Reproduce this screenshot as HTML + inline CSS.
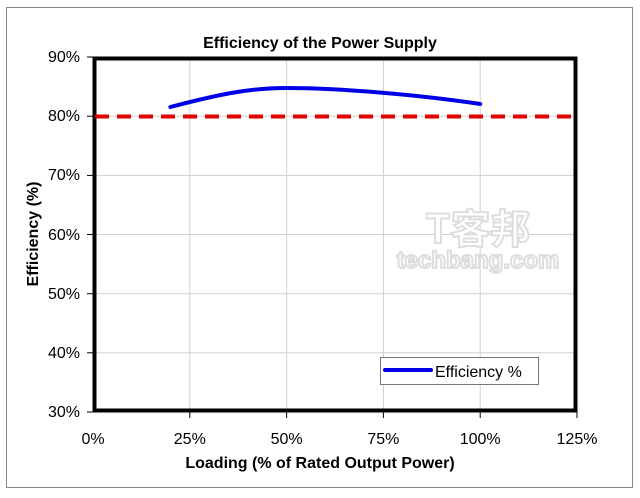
<!DOCTYPE html>
<html><head><style>body{margin:0;background:#fff}</style></head><body>
<svg width="640" height="493" xmlns="http://www.w3.org/2000/svg" font-family="Liberation Sans, sans-serif">
<rect x="6.5" y="7.5" width="626" height="480" fill="#fff" stroke="#888" stroke-width="1"/>
<text x="320" y="48" text-anchor="middle" font-size="16" font-weight="bold">Efficiency of the Power Supply</text>
<g stroke="#d0d0d0" stroke-width="1">
<line x1="189.8" y1="57" x2="189.8" y2="412"/><line x1="286.6" y1="57" x2="286.6" y2="412"/>
<line x1="383.4" y1="57" x2="383.4" y2="412"/><line x1="480.2" y1="57" x2="480.2" y2="412"/>
<line x1="93" y1="116.2" x2="577" y2="116.2"/><line x1="93" y1="175.4" x2="577" y2="175.4"/>
<line x1="93" y1="234.5" x2="577" y2="234.5"/><line x1="93" y1="293.7" x2="577" y2="293.7"/>
<line x1="93" y1="352.8" x2="577" y2="352.8"/>
</g>
<g font-size="16" fill="#000" text-anchor="end">
<text x="80" y="62">90%</text><text x="80" y="121">80%</text><text x="80" y="180">70%</text>
<text x="80" y="240">60%</text><text x="80" y="299">50%</text><text x="80" y="358">40%</text><text x="80" y="417">30%</text>
</g>
<g font-size="16" text-anchor="middle">
<text x="93" y="444">0%</text><text x="189.8" y="444">25%</text><text x="286.6" y="444">50%</text>
<text x="383.4" y="444">75%</text><text x="480.2" y="444">100%</text><text x="577" y="444">125%</text>
</g>
<g stroke="#000" stroke-width="1">
<line x1="87" y1="57" x2="93" y2="57"/><line x1="87" y1="116.2" x2="93" y2="116.2"/><line x1="87" y1="175.4" x2="93" y2="175.4"/>
<line x1="87" y1="234.5" x2="93" y2="234.5"/><line x1="87" y1="293.7" x2="93" y2="293.7"/><line x1="87" y1="352.8" x2="93" y2="352.8"/><line x1="87" y1="412" x2="93" y2="412"/>
<line x1="189.8" y1="412" x2="189.8" y2="418"/><line x1="286.6" y1="412" x2="286.6" y2="418"/><line x1="383.4" y1="412" x2="383.4" y2="418"/><line x1="480.2" y1="412" x2="480.2" y2="418"/><line x1="577" y1="412" x2="577" y2="418"/>
</g>
<text x="320" y="468" text-anchor="middle" font-size="16" font-weight="bold">Loading (% of Rated Output Power)</text>
<text transform="translate(38,234) rotate(-90)" text-anchor="middle" font-size="16" font-weight="bold">Efficiency (%)</text>
<g fill="none" stroke="#ddd" stroke-width="2" font-size="40" font-weight="bold">
<text x="478" y="243" text-anchor="middle" fill="#fff" font-family="Noto Sans CJK TC, sans-serif">T客邦</text>
<text x="478" y="268" text-anchor="middle" fill="#fff" font-size="24">techbang.com</text>
</g>
<path d="M170.4,107 C220,94 250,88 286.6,88 C340,88 420,95 480.2,104" fill="none" stroke="#0000e6" stroke-width="4" stroke-linecap="round"/>
<rect x="94.5" y="58.5" width="481" height="352" fill="none" stroke="#000" stroke-width="4"/>
<line x1="95" y1="116.5" x2="579" y2="116.5" stroke="#e00000" stroke-width="4" stroke-dasharray="14,8"/>
<rect x="380.5" y="357.5" width="158" height="27" fill="#fff" stroke="#777" stroke-width="1"/>
<line x1="385" y1="370" x2="431" y2="370" stroke="#0000e6" stroke-width="4" stroke-linecap="round"/>
<text x="435" y="377" font-size="16">Efficiency %</text>
</svg>
</body></html>
